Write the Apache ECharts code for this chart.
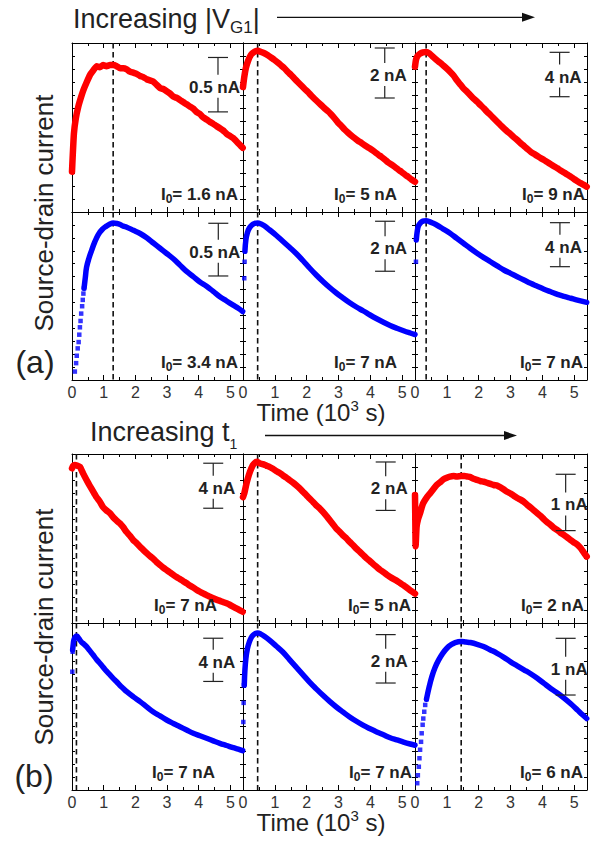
<!DOCTYPE html>
<html>
<head>
<meta charset="utf-8">
<script src="https://cdn.jsdelivr.net/npm/echarts@6/dist/echarts.min.js"></script>
<style>
html, body { margin: 0; padding: 0; background: #fff; }
#chart { width: 597px; height: 842px; }
</style>
</head>
<body>
<div id="chart"></div>
<script>
// time axis, in 10^3 s
const timeTicks = [0, 1, 2, 3, 4, 5];
const timeMax = 5.4;

// time of the current maximum (dashed lines), one per column
const peakA = [1.30, 0.46, 0.35];
const peakB = [0.14, 0.46, 1.45];

// scale bars (nA) and I0 values
const scaleA = [0.5, 2, 4];
const scaleB = [4, 2, 1];
const i0ExpA = ['1.6', '5', '9'];
const i0SimA = ['3.4', '7', '7'];
const i0ExpB = ['7', '5', '2'];
const i0SimB = ['7', '7', '6'];

// (a) measured current, nA
const expA1 = [[0,0.37],[0.02,0.5],[0.06,0.72],[0.12,0.86],[0.2,0.97],[0.28,1.05],[0.36,1.12],[0.46,1.19],[0.57,1.26],[0.67,1.30],[0.78,1.34],[0.88,1.33],[0.98,1.35],[1.09,1.34],[1.2,1.35],[1.3,1.35],[1.41,1.34],[1.52,1.32],[1.62,1.32],[1.73,1.31],[1.83,1.29],[1.94,1.28],[2.04,1.27],[2.15,1.25],[2.25,1.24],[2.36,1.22],[2.46,1.21],[2.56,1.20],[2.67,1.17],[2.78,1.14],[2.88,1.13],[2.99,1.11],[3.09,1.09],[3.2,1.06],[3.3,1.05],[3.41,1.03],[3.51,1.01],[3.62,0.99],[3.72,0.97],[3.83,0.95],[3.93,0.92],[4.04,0.90],[4.14,0.87],[4.25,0.85],[4.35,0.83],[4.46,0.81],[4.56,0.79],[4.67,0.77],[4.77,0.75],[4.88,0.72],[4.98,0.70],[5.09,0.68],[5.19,0.65],[5.29,0.62],[5.39,0.59]];
const expA2 = [[0,5.0],[0.04,5.4],[0.09,5.76],[0.16,6.05],[0.25,6.29],[0.35,6.4],[0.46,6.45],[0.57,6.4],[0.67,6.35],[0.78,6.27],[0.88,6.18],[0.99,6.08],[1.09,5.98],[1.2,5.86],[1.3,5.75],[1.41,5.6],[1.51,5.48],[1.62,5.33],[1.72,5.2],[1.83,5.06],[1.93,4.93],[2.04,4.8],[2.14,4.66],[2.25,4.52],[2.35,4.4],[2.46,4.27],[2.56,4.15],[2.67,4.03],[2.77,3.9],[2.88,3.74],[2.98,3.58],[3.09,3.44],[3.19,3.3],[3.3,3.17],[3.4,3.06],[3.51,2.95],[3.61,2.85],[3.72,2.76],[3.82,2.67],[3.93,2.58],[4.03,2.5],[4.14,2.4],[4.24,2.3],[4.35,2.2],[4.45,2.1],[4.56,1.98],[4.66,1.9],[4.77,1.8],[4.87,1.7],[4.98,1.6],[5.08,1.5],[5.19,1.4],[5.29,1.3],[5.4,1.21]];
const expA3 = [[0,13.1],[0.03,13.7],[0.08,14.05],[0.15,14.25],[0.25,14.38],[0.35,14.42],[0.45,14.3],[0.56,14.0],[0.68,13.69],[0.79,13.45],[0.89,13.2],[1.0,12.92],[1.1,12.64],[1.21,12.3],[1.31,11.9],[1.42,11.5],[1.52,11.14],[1.63,10.85],[1.73,10.55],[1.84,10.22],[1.95,9.94],[2.05,9.65],[2.16,9.35],[2.26,9.04],[2.37,8.74],[2.47,8.45],[2.58,8.13],[2.68,7.84],[2.79,7.54],[2.89,7.28],[3.0,7.02],[3.1,6.75],[3.21,6.49],[3.31,6.22],[3.42,5.95],[3.52,5.7],[3.63,5.43],[3.73,5.24],[3.84,5.05],[3.94,4.86],[4.05,4.68],[4.15,4.5],[4.26,4.31],[4.36,4.13],[4.47,3.94],[4.57,3.75],[4.68,3.56],[4.78,3.37],[4.89,3.18],[4.99,2.98],[5.1,2.78],[5.2,2.6],[5.3,2.44],[5.39,2.28]];

// (a) simulated current, nA (rise = sparse points of the steep start)
const simRiseA1 = [[0.09,0.08],[0.13,0.16],[0.15,0.23],[0.18,0.30],[0.21,0.36],[0.23,0.43],[0.25,0.50],[0.27,0.56],[0.29,0.63],[0.32,0.70],[0.34,0.76],[0.36,0.82],[0.38,0.87]];
const simA1 = [[0.38,0.87],[0.42,0.97],[0.46,1.07],[0.54,1.16],[0.62,1.23],[0.72,1.31],[0.83,1.38],[0.96,1.43],[1.09,1.46],[1.2,1.48],[1.3,1.49],[1.42,1.485],[1.52,1.475],[1.62,1.46],[1.73,1.45],[1.94,1.42],[2.15,1.39],[2.36,1.35],[2.57,1.30],[2.78,1.25],[2.99,1.20],[3.2,1.15],[3.41,1.09],[3.62,1.03],[3.83,0.98],[4.04,0.93],[4.25,0.89],[4.46,0.84],[4.67,0.79],[4.88,0.75],[5.09,0.71],[5.25,0.68],[5.39,0.65]];
const simRiseA2 = [[0.04,4.07],[0.05,4.73]];
const simA2 = [[0.06,5.15],[0.09,5.6],[0.14,5.9],[0.2,6.08],[0.28,6.2],[0.36,6.26],[0.46,6.28],[0.57,6.24],[0.67,6.17],[0.83,6.01],[1.04,5.79],[1.25,5.55],[1.46,5.31],[1.67,5.06],[1.88,4.78],[2.09,4.48],[2.3,4.2],[2.51,3.94],[2.72,3.7],[2.93,3.48],[3.14,3.28],[3.35,3.09],[3.56,2.92],[3.78,2.76],[3.99,2.6],[4.2,2.45],[4.41,2.31],[4.62,2.18],[4.83,2.07],[5.04,1.97],[5.25,1.88],[5.4,1.82]];
const simRiseA3 = [[0.03,10.75]];
const simA3 = [[0.04,12.73],[0.07,13.5],[0.1,13.94],[0.15,14.2],[0.21,14.39],[0.28,14.46],[0.35,14.48],[0.45,14.4],[0.56,14.26],[0.68,14.09],[0.89,13.72],[1.1,13.34],[1.31,12.88],[1.52,12.43],[1.73,11.97],[1.95,11.52],[2.16,11.12],[2.37,10.75],[2.58,10.37],[2.79,10.0],[3.0,9.69],[3.21,9.39],[3.42,9.09],[3.63,8.79],[3.84,8.52],[4.05,8.25],[4.26,8.02],[4.47,7.79],[4.68,7.6],[4.89,7.43],[5.1,7.26],[5.39,7.06]];

// (b) measured current, nA
const expB1 = [[0,13.75],[0.03,13.95],[0.09,14.04],[0.16,14.0],[0.25,13.89],[0.35,13.3],[0.46,12.71],[0.56,12.2],[0.67,11.67],[0.77,11.2],[0.88,10.78],[0.98,10.3],[1.09,10.0],[1.2,9.75],[1.3,9.4],[1.41,9.1],[1.51,8.86],[1.62,8.5],[1.72,8.1],[1.83,7.75],[1.93,7.38],[2.04,7.1],[2.14,6.8],[2.25,6.5],[2.36,6.2],[2.46,5.95],[2.57,5.7],[2.67,5.42],[2.78,5.16],[2.88,4.92],[2.99,4.7],[3.09,4.5],[3.2,4.27],[3.3,4.08],[3.41,3.9],[3.51,3.72],[3.62,3.53],[3.72,3.33],[3.83,3.15],[3.93,2.96],[4.04,2.78],[4.14,2.63],[4.25,2.48],[4.35,2.34],[4.46,2.2],[4.56,2.08],[4.67,1.97],[4.77,1.86],[4.88,1.75],[4.98,1.62],[5.09,1.45],[5.19,1.3],[5.29,1.15],[5.39,1.0]];
const expB2 = [[0,5.2],[0.04,5.35],[0.09,5.65],[0.15,5.96],[0.22,6.25],[0.31,6.52],[0.38,6.62],[0.44,6.66],[0.52,6.6],[0.62,6.56],[0.73,6.5],[0.83,6.45],[0.94,6.37],[1.04,6.28],[1.15,6.2],[1.25,6.1],[1.36,6.0],[1.46,5.9],[1.57,5.8],[1.67,5.69],[1.78,5.56],[1.88,5.42],[1.99,5.28],[2.09,5.14],[2.2,5.0],[2.3,4.86],[2.41,4.73],[2.51,4.59],[2.62,4.42],[2.72,4.25],[2.83,4.07],[2.93,3.9],[3.04,3.76],[3.14,3.62],[3.25,3.49],[3.35,3.35],[3.46,3.21],[3.56,3.07],[3.67,2.94],[3.78,2.8],[3.88,2.67],[3.99,2.55],[4.09,2.43],[4.2,2.31],[4.3,2.2],[4.41,2.1],[4.51,2.0],[4.62,1.9],[4.72,1.82],[4.83,1.74],[4.93,1.65],[5.04,1.56],[5.14,1.46],[5.25,1.35],[5.4,1.21]];
const expB3 = [[0,2.27],[0.01,1.8],[0.02,1.36],[0.05,1.71],[0.1,1.85],[0.16,1.95],[0.21,2.05],[0.26,2.13],[0.37,2.23],[0.47,2.30],[0.58,2.38],[0.68,2.45],[0.79,2.5],[0.89,2.55],[1.0,2.58],[1.1,2.6],[1.21,2.61],[1.31,2.6],[1.45,2.61],[1.55,2.61],[1.64,2.6],[1.74,2.59],[1.84,2.56],[1.95,2.54],[2.05,2.52],[2.15,2.51],[2.26,2.49],[2.37,2.47],[2.47,2.45],[2.58,2.44],[2.68,2.41],[2.79,2.37],[2.89,2.33],[3.0,2.3],[3.1,2.26],[3.21,2.22],[3.31,2.19],[3.42,2.15],[3.52,2.1],[3.63,2.05],[3.73,2.0],[3.84,1.95],[3.94,1.9],[4.05,1.84],[4.15,1.79],[4.26,1.74],[4.36,1.69],[4.47,1.65],[4.57,1.6],[4.68,1.56],[4.78,1.52],[4.89,1.47],[4.99,1.43],[5.1,1.39],[5.2,1.33],[5.3,1.25],[5.39,1.18]];

// (b) simulated current, nA
const simRiseB1 = [[0.01,10.95],[0.02,12.8]];
const simB1 = [[0.02,12.96],[0.04,13.5],[0.06,13.89],[0.1,14.15],[0.15,14.26],[0.22,14.0],[0.3,13.7],[0.38,13.5],[0.46,13.27],[0.56,12.9],[0.67,12.5],[0.77,12.1],[0.88,11.73],[0.99,11.35],[1.09,11.0],[1.2,10.65],[1.3,10.34],[1.41,10.02],[1.51,9.7],[1.62,9.4],[1.73,9.1],[1.94,8.62],[2.15,8.18],[2.36,7.7],[2.56,7.25],[2.78,6.86],[2.99,6.48],[3.2,6.16],[3.41,5.86],[3.62,5.55],[3.83,5.25],[4.04,5.02],[4.25,4.79],[4.46,4.55],[4.67,4.32],[4.88,4.12],[5.09,3.92],[5.25,3.78],[5.39,3.64]];
const simRiseB2 = [[0.01,2.81],[0.02,3.6],[0.03,4.33]];
const simB2 = [[0.04,4.33],[0.06,4.95],[0.09,5.43],[0.14,5.85],[0.2,6.12],[0.26,6.3],[0.31,6.39],[0.38,6.46],[0.46,6.49],[0.56,6.44],[0.67,6.35],[0.83,6.19],[1.04,5.95],[1.25,5.70],[1.46,5.39],[1.67,5.08],[1.88,4.77],[2.09,4.46],[2.3,4.18],[2.51,3.91],[2.72,3.66],[2.93,3.43],[3.14,3.22],[3.35,3.02],[3.56,2.84],[3.78,2.67],[3.99,2.53],[4.2,2.40],[4.41,2.28],[4.62,2.16],[4.83,2.07],[5.04,1.98],[5.25,1.9],[5.4,1.85]];
const simRiseB3 = [[0.07,0.12],[0.09,0.26],[0.12,0.41],[0.14,0.56],[0.16,0.71],[0.19,0.85],[0.21,1.0],[0.24,1.15],[0.26,1.26],[0.29,1.38],[0.32,1.5],[0.36,1.6]];
const simB3 = [[0.36,1.6],[0.45,1.83],[0.53,2.0],[0.63,2.16],[0.74,2.29],[0.87,2.41],[1.0,2.5],[1.13,2.56],[1.26,2.6],[1.45,2.62],[1.6,2.61],[1.74,2.6],[1.95,2.57],[2.15,2.53],[2.37,2.47],[2.58,2.41],[2.79,2.34],[3.0,2.26],[3.21,2.19],[3.42,2.12],[3.63,2.05],[3.84,1.97],[4.05,1.88],[4.26,1.79],[4.47,1.71],[4.68,1.62],[4.89,1.52],[5.1,1.41],[5.25,1.33],[5.39,1.26]];

const FONT = '"Liberation Sans", Arial, sans-serif';
const INK = '#222';
const RED = '#ff0000';
const BLUE = '#0000ff';

// panel layout: columns and rows in px
const colX = [72, 243, 415];
const colW = [171, 172, 172];
const rows = [
  { y: 43, h: 169, labels: false },
  { y: 212, h: 168, labels: true },
  { y: 454, h: 169, labels: false },
  { y: 623, h: 167, labels: true }
];

// one entry per panel: row, column, curves, y range, scale bar and I0 label
const panels = [
  { r: 0, c: 0, data: expA1, color: RED, peak: peakA[0], yMax: 1.553, barT: 4.61, barTop: 1.42, bar: scaleA[0], i0: i0ExpA[0], i0Right: 166 },
  { r: 0, c: 1, data: expA2, color: RED, peak: peakA[1], yMax: 6.76, barT: 4.45, barTop: 6.56, bar: scaleA[1], i0: i0ExpA[1], i0Right: 154 },
  { r: 0, c: 2, data: expA3, color: RED, peak: peakA[2], yMax: 15.23, barT: 4.54, barTop: 14.39, bar: scaleA[2], i0: i0ExpA[2], i0Right: 170 },
  { r: 1, c: 0, data: simA1, rise: simRiseA1, color: BLUE, peak: peakA[0], yMax: 1.594, barT: 4.62, barTop: 1.487, bar: scaleA[0], i0: i0SimA[0], i0Right: 166 },
  { r: 1, c: 1, data: simA2, rise: simRiseA2, color: BLUE, peak: peakA[1], yMax: 6.72, barT: 4.46, barTop: 6.35, bar: scaleA[1], i0: i0SimA[1], i0Right: 154 },
  { r: 1, c: 2, data: simA3, rise: simRiseA3, color: BLUE, peak: peakA[2], yMax: 15.27, barT: 4.55, barTop: 14.3, bar: scaleA[2], i0: i0SimA[2], i0Right: 168 },
  { r: 2, c: 0, data: expB1, color: RED, peak: peakB[0], yMax: 15.02, barT: 4.46, barTop: 14.2, bar: scaleB[0], i0: i0ExpB[0], i0Right: 145 },
  { r: 2, c: 1, data: expB2, color: RED, peak: peakB[1], yMax: 6.98, barT: 4.48, barTop: 6.65, bar: scaleB[1], i0: i0ExpB[1], i0Right: 168 },
  { r: 2, c: 2, data: expB3, color: RED, peak: peakB[2], yMax: 3.0, barT: 4.73, barTop: 2.64, bar: scaleB[2], i0: i0ExpB[2], i0Right: 169 },
  { r: 3, c: 0, data: simB1, rise: simRiseB1, color: BLUE, peak: peakB[0], yMax: 15.46, barT: 4.46, barTop: 14.05, bar: scaleB[0], i0: i0SimB[0], i0Right: 143 },
  { r: 3, c: 1, data: simB2, rise: simRiseB2, color: BLUE, peak: peakB[1], yMax: 6.9, barT: 4.48, barTop: 6.42, bar: scaleB[1], i0: i0SimB[1], i0Right: 169 },
  { r: 3, c: 2, data: simB3, rise: simRiseB3, color: BLUE, peak: peakB[2], yMax: 2.945, barT: 4.73, barTop: 2.675, bar: scaleB[2], i0: i0SimB[2], i0Right: 168 }
];

function xAxis (i, position, labels) {
  return {
    type: 'value', gridIndex: i, position: position,
    min: timeTicks[0], max: timeMax, interval: 1,
    axisLine: { show: true, onZero: false, lineStyle: { color: '#000', width: 1 } },
    axisTick: { show: true, inside: true, length: 5, lineStyle: { color: '#000' } },
    minorTick: { show: true, splitNumber: 2, length: 3, lineStyle: { color: '#000' } },
    splitLine: { show: false },
    axisLabel: {
      show: labels, margin: 4, color: '#333', fontSize: 16, fontFamily: FONT,
      formatter: function (v) { return timeTicks.indexOf(v) >= 0 ? String(v) : ''; }
    }
  };
}

function yAxis (i, position, yMax) {
  return {
    type: 'value', gridIndex: i, position: position,
    min: 0, max: yMax, interval: yMax / 13,
    axisLine: { show: true, onZero: false, lineStyle: { color: '#000', width: 1 } },
    axisTick: { show: true, inside: true, length: 3, lineStyle: { color: '#000' } },
    axisLabel: { show: false },
    splitLine: { show: false }
  };
}

function seg (x1, y1, x2, y2) {
  return { type: 'line', shape: { x1: x1, y1: y1, x2: x2, y2: y2 }, style: { stroke: INK, lineWidth: 1.2 } };
}

// dashed line at the maximum, over the whole panel height
function renderPeak (params, api) {
  const a = api.coord([api.value(0), api.value(1)]);
  const b = api.coord([api.value(0), 0]);
  return {
    type: 'line',
    shape: { x1: a[0], y1: a[1], x2: b[0], y2: b[1] },
    style: { stroke: '#111', lineWidth: 1.6, lineDash: [5.5, 3.5] }
  };
}

// scale bar and I0 label
function noteRenderer (p) {
  return function (params, api) {
    const cs = params.coordSys;
    const top = api.coord([api.value(0), api.value(1)]);
    const bot = api.coord([api.value(0), api.value(2)]);
    const x = top[0];
    const mid = (top[1] + bot[1]) / 2 + 2.5;
    return {
      type: 'group',
      children: [
        seg(x - 10, top[1], x + 10, top[1]),
        seg(x, top[1], x, mid - 12.5),
        seg(x, mid + 10.5, x, bot[1]),
        seg(x - 10, bot[1], x + 10, bot[1]),
        {
          type: 'text', x: x + 22, y: mid,
          style: { text: p.bar + ' nA', font: 'bold 17px ' + FONT, fill: INK, align: 'right', verticalAlign: 'middle' }
        },
        {
          type: 'text', x: cs.x + p.i0Right, y: cs.y + cs.height - 7,
          style: {
            text: '{a|I}{s|0}{a|= ' + p.i0 + ' nA}',
            align: 'right', verticalAlign: 'bottom',
            rich: {
              a: { fontSize: 17, fontWeight: 'bold', fontFamily: FONT, fill: INK, lineHeight: 22 },
              s: { fontSize: 12, fontWeight: 'bold', fontFamily: FONT, fill: INK, lineHeight: 4, verticalAlign: 'bottom' }
            }
          }
        }
      ]
    };
  };
}

const grids = [];
const xAxes = [];
const yAxes = [];
const series = [];

panels.forEach(function (p, i) {
  const row = rows[p.r];
  grids.push({ left: colX[p.c], top: row.y, width: colW[p.c], height: row.h });
  xAxes.push(xAxis(i, 'bottom', row.labels), xAxis(i, 'top', false));
  yAxes.push(yAxis(i, 'left', p.yMax), yAxis(i, 'right', p.yMax));
  const ax = { xAxisIndex: 2 * i, yAxisIndex: 2 * i };
  const measured = p.color === RED;
  series.push(Object.assign({ type: 'custom', z: 1, silent: true, renderItem: renderPeak, data: [[p.peak, p.yMax]] }, ax));
  series.push(Object.assign({
    type: 'line', z: 3, silent: true, data: p.data, showSymbol: false,
    smooth: measured ? 0.15 : 0.4,
    lineStyle: { color: p.color, width: measured ? 6.5 : 5.5, cap: 'round', join: 'round' },
    itemStyle: { color: p.color }
  }, ax));
  if (p.rise) {
    series.push(Object.assign({
      type: 'scatter', z: 3, silent: true, data: p.rise, symbol: 'rect', symbolSize: 4.5,
      itemStyle: { color: BLUE }
    }, ax));
  }
  series.push(Object.assign({
    type: 'custom', z: 4, silent: true, renderItem: noteRenderer(p),
    data: [[p.barT, p.barTop, p.barTop - p.bar]]
  }, ax));
});

function arrow (x1, x2, y) {
  return [
    { type: 'line', shape: { x1: x1, y1: y, x2: x2 - 10, y2: y }, style: { stroke: '#111', lineWidth: 1.3 } },
    { type: 'polygon', shape: { points: [[x2, y], [x2 - 13, y - 4.5], [x2 - 13, y + 4.5]] }, style: { fill: '#111' } }
  ];
}

const timeTitle = {
  text: '{m|Time (10}{p|3}{m| s)}',
  align: 'center', verticalAlign: 'top',
  rich: {
    m: { fontSize: 24, fontFamily: FONT, fill: INK, lineHeight: 30 },
    p: { fontSize: 15, fontFamily: FONT, fill: INK, lineHeight: 19, verticalAlign: 'top' }
  }
};

const graphics = [
  {
    type: 'text', x: 73, y: 1.6,
    style: {
      text: '{m|Increasing |V}{s|G1}{m||}', align: 'left', verticalAlign: 'top',
      rich: {
        m: { fontSize: 27, fontFamily: FONT, fill: INK, lineHeight: 34 },
        s: { fontSize: 17, fontFamily: FONT, fill: INK, lineHeight: 9, verticalAlign: 'bottom' }
      }
    }
  },
  {
    type: 'text', x: 90, y: 413.3,
    style: {
      text: '{m|Increasing t}{s|1}', align: 'left', verticalAlign: 'top',
      rich: {
        m: { fontSize: 27, fontFamily: FONT, fill: INK, lineHeight: 38 },
        s: { fontSize: 14, fontFamily: FONT, fill: INK, lineHeight: 5, verticalAlign: 'bottom' }
      }
    }
  },
  { type: 'text', x: 321, y: 397.5, style: Object.assign({}, timeTitle) },
  { type: 'text', x: 321, y: 807.5, style: Object.assign({}, timeTitle) },
  {
    type: 'text', x: 44, y: 213, rotation: Math.PI / 2,
    style: { text: 'Source-drain current', font: '26px ' + FONT, fill: INK, align: 'center', verticalAlign: 'middle' }
  },
  {
    type: 'text', x: 44, y: 627, rotation: Math.PI / 2,
    style: { text: 'Source-drain current', font: '26px ' + FONT, fill: INK, align: 'center', verticalAlign: 'middle' }
  },
  { type: 'text', x: 35, y: 362, style: { text: '(a)', font: '32px ' + FONT, fill: INK, align: 'center', verticalAlign: 'middle' } },
  { type: 'text', x: 34, y: 776, style: { text: '(b)', font: '32px ' + FONT, fill: INK, align: 'center', verticalAlign: 'middle' } }
].concat(arrow(277, 535, 17.3), arrow(265, 517, 435.5));

const chart = echarts.init(document.getElementById('chart'), null, { renderer: 'svg' });
chart.setOption({
  backgroundColor: '#fff',
  animation: false,
  grid: grids,
  xAxis: xAxes,
  yAxis: yAxes,
  series: series,
  graphic: graphics
});
</script>
</body>
</html>
